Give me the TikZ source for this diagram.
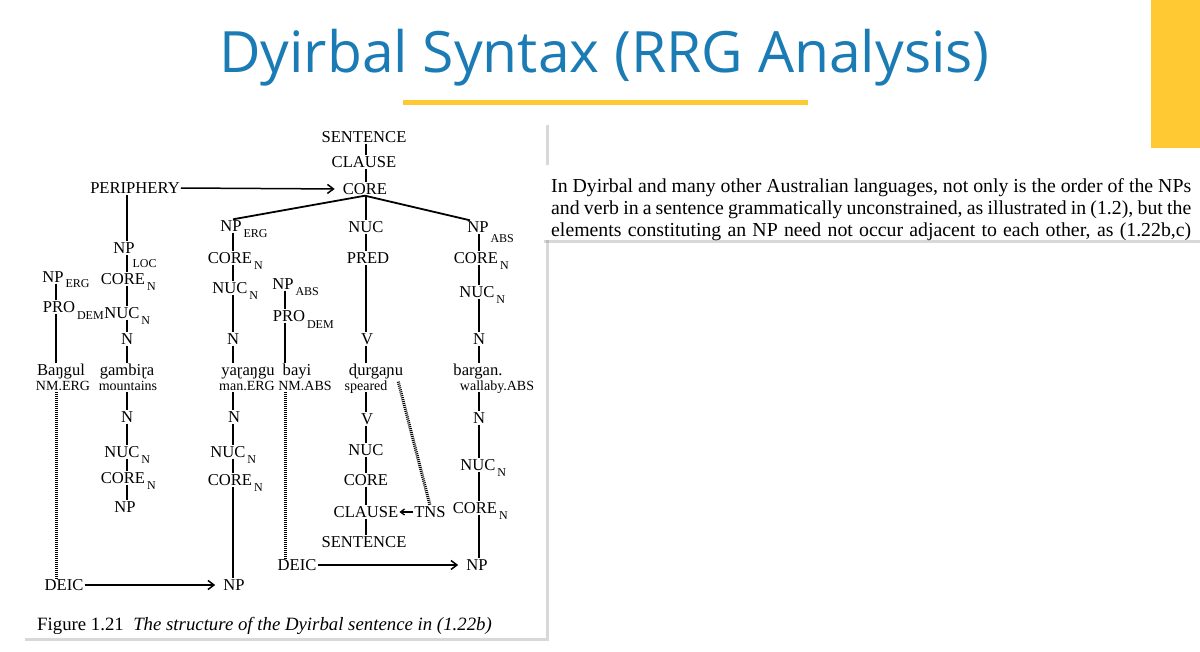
\documentclass[tikz,border=0pt]{standalone}
\usepackage{fontspec}
\setmainfont{Liberation Serif}
\newfontfamily\titlefont{Open Sans}
\usetikzlibrary{arrows.meta,shadows,calc}
\definecolor{titleblue}{HTML}{1A7BB5}
\definecolor{slideyellow}{HTML}{FFC933}
\newcommand{\treefont}{\fontsize{16.6}{18}\selectfont}
\newcommand{\glossfont}{\fontsize{14}{15}\selectfont}
\newcommand{\subfont}{\fontsize{12}{12}\selectfont}
\begin{document}
\begin{tikzpicture}[x=1pt,y=-1pt,
  tn/.style={font=\treefont, inner sep=1pt, text height=11pt, text depth=0pt},
  gl/.style={font=\glossfont, inner sep=1pt, text height=9.5pt, text depth=0pt},
  subl/.style={font=\subfont, anchor=west, inner sep=0pt, xshift=0.5pt, yshift=-7pt, text height=8pt, text depth=0pt},
  sb/.style={label={[subl]east:#1}},
  ln/.style={line width=1.8pt},
  dl/.style={line width=3pt, dash pattern=on 1pt off 1pt},
  arr/.style={line width=1.5pt, -{Straight Barb[length=6pt,width=9pt]}, shorten >=7pt},
  sarr/.style={line width=1.3pt, -{Straight Barb[length=4pt,width=6pt]}},
  txt/.style={anchor=base west, inner sep=0pt, font=\fontsize{19.8}{22}\selectfont}
]
\useasboundingbox (0,0) rectangle (1200,651);
\fill[white] (0,0) rectangle (1200,651);

% slide decoration
\node[anchor=base west, inner sep=0pt, font=\titlefont\fontsize{57}{60}\selectfont, text=titleblue] (title) at (219,72) {Dyirbal Syntax (RRG Analysis)};
\fill[slideyellow] (403,100) rectangle (808,105);
\fill[slideyellow] (1151,0) rectangle (1200,148);

% figure panel
\path[fill=white, drop shadow={opacity=0.3, shadow xshift=3pt, shadow yshift=-3pt}] (22,122) rectangle (546,638);
% text panel
\path[fill=white, drop shadow={opacity=0.3, shadow xshift=0pt, shadow yshift=-3pt}] (544,165) rectangle (1200,240);
\node[txt] (l1) at (551,192) {\makebox[640pt][s]{In Dyirbal and many other Australian languages, not only is the order of the NPs}};
\node[txt] (l2) at (551,214.5) {\makebox[640pt][s]{and verb in a sentence grammatically unconstrained, as illustrated in (1.2), but the}};
\node[txt] (l3) at (551,236.5) {\makebox[640pt][s]{elements constituting an NP need not occur adjacent to each other, as (1.22b,c)}};

% column x positions
\coordinate (cA) at (56,0);
\coordinate (cL) at (127,0);
\coordinate (cM) at (233,0);
\coordinate (cB) at (285,0);
\coordinate (cV) at (366,0);
\coordinate (cR) at (479,0);

% tree nodes
\node[tn] (sent1) at (364,137) {SENTENCE};
\node[tn] (clause1) at (364,162) {CLAUSE};
\node[tn] (core1) at (365,189) {CORE};
\node[tn] (peri) at (135,188) {PERIPHERY};
\node[tn,sb=ERG] (np2) at (231,226) {NP};
\node[tn] (nuc3) at (366,227) {NUC};
\node[tn,label={[subl,yshift=-4pt]east:ABS}] (np4) at (478,227) {NP};
\node[tn,label={[subl,xshift=-4pt,yshift=-8pt]east:LOC}] (npl) at (124,248) {NP};
\node[tn,sb=N] (core2) at (230,258) {CORE};
\node[tn] (pred) at (368,258) {PRED};
\node[tn,sb=N] (core5) at (476,258) {CORE};
\node[tn,label={[subl,yshift=1pt]east:ERG}] (nperg) at (53,277) {NP};
\node[tn,sb=N] (corel) at (123,279) {CORE};
\node[tn,sb=N] (nuc2) at (230,288) {NUC};
\node[tn,sb=N] (nuc5) at (477,292) {NUC};
\node[tn,sb=ABS] (np3) at (283,284) {NP};
\node[tn,label={[subl,yshift=-1pt]east:DEM}] (pro1) at (59,307) {PRO};
\node[tn,sb=N] (nucl) at (122,313) {NUC};
\node[tn,label={[subl,yshift=-1pt]east:DEM}] (pro3) at (289,316) {PRO};
\node[tn] (nl1) at (127,339) {N};
\node[tn] (n2) at (233,339) {N};
\node[tn] (v1) at (367,339) {V};
\node[tn] (n5) at (479,339) {N};

% words and glosses
\node[tn] (bang) at (61,370) {Baŋgul};
\node[tn] (gamb) at (127,370) {gambiɽa};
\node[tn] (yar) at (248,370) {yaɽaŋgu};
\node[tn] (bayi) at (297,370) {bayi};
\node[tn] (durg) at (376,370) {ɖurgaɲu};
\node[tn] (barg) at (478,370) {bargan.};
\node[gl] (nmerg) at (63,386) {NM.ERG};
\node[gl] (mount) at (128,386) {mountains};
\node[gl] (manerg) at (247,386) {man.ERG};
\node[gl] (nmabs) at (305,386) {NM.ABS};
\node[gl] (spear) at (366,386) {speared};
\node[gl] (wall) at (497,386) {wallaby.ABS};

% lower tree
\node[tn] (nl2) at (127,417) {N};
\node[tn] (n2b) at (234,417) {N};
\node[tn] (v2) at (367,419) {V};
\node[tn] (n5b) at (479,418) {N};
\node[tn,sb=N] (nucl2) at (122,452) {NUC};
\node[tn,sb=N] (nuc2b) at (228,452) {NUC};
\node[tn] (nuc4) at (366,450) {NUC};
\node[tn,sb=N] (nuc5b) at (478,465) {NUC};
\node[tn,sb=N] (corel2) at (123,478) {CORE};
\node[tn,sb=N] (core2b) at (230,480) {CORE};
\node[tn] (core4) at (366,480) {CORE};
\node[tn,sb=N] (core5b) at (475,508) {CORE};
\node[tn] (npl2) at (125,507) {NP};
\node[tn] (clause2) at (366,512) {CLAUSE};
\node[tn] (tns) at (430,512) {TNS};
\node[tn] (sent2) at (364,542) {SENTENCE};
\node[tn] (deic2) at (297,565) {DEIC};
\node[tn] (np5) at (477,565) {NP};
\node[tn] (deic1) at (64,585) {DEIC};
\node[tn] (np2b) at (234,585) {NP};

% caption
\node[anchor=base west, inner sep=0pt, font=\fontsize{18.8}{20}\selectfont] (cap) at (37,630) {Figure 1.21\hspace{0.5em}\textit{The structure of the Dyirbal sentence in (1.22b)}};

% vertical connectors
\foreach \a/\b/\c in {sent1/clause1/cV, clause1/core1/cV, core1/nuc3/cV, nuc3/pred/cV, pred/v1/cV, v1/durg/cV, spear/v2/cV, v2/nuc4/cV, nuc4/core4/cV, core4/clause2/cV, clause2/sent2/cV,
  np2/core2/cM, core2/nuc2/cM, nuc2/n2/cM, n2/yar/cM, manerg/n2b/cM, n2b/nuc2b/cM, nuc2b/core2b/cM, core2b/np2b/cM,
  peri/npl/cL, npl/corel/cL, corel/nucl/cL, nucl/nl1/cL, nl1/gamb/cL, mount/nl2/cL, nl2/nucl2/cL, nucl2/corel2/cL, corel2/npl2/cL,
  nperg/pro1/cA, pro1/bang/cA,
  np3/pro3/cB, pro3/bayi/cB,
  np4/core5/cR, core5/nuc5/cR, nuc5/n5/cR, n5/barg/cR, wall/n5b/cR, n5b/nuc5b/cR, nuc5b/core5b/cR, core5b/np5/cR}
  \draw[ln] (\a.south -| \c) -- (\b.north -| \c);

% branches from CORE
\draw[ln] (core1.south) -- (np2.north -| cM);
\draw[ln] (core1.south) -- ($(np4.north)+(-8,0)$);

% dotted links
\draw[dl] (nmerg.south -| cA) -- (deic1.north -| cA);
\draw[dl] (nmabs.south -| cB) -- (deic2.north -| cB);
\draw[dl] ($(durg.south east)+(-6,5)$) -- (tns.north);

% arrows
\draw[arr] (peri.east) -- (core1.west);
\draw[arr] (deic1.east) -- (np2b.west);
\draw[arr] (deic2.east) -- (np5.west);
\draw[sarr] (tns.west) -- (clause2.east);
\end{tikzpicture}
\end{document}
